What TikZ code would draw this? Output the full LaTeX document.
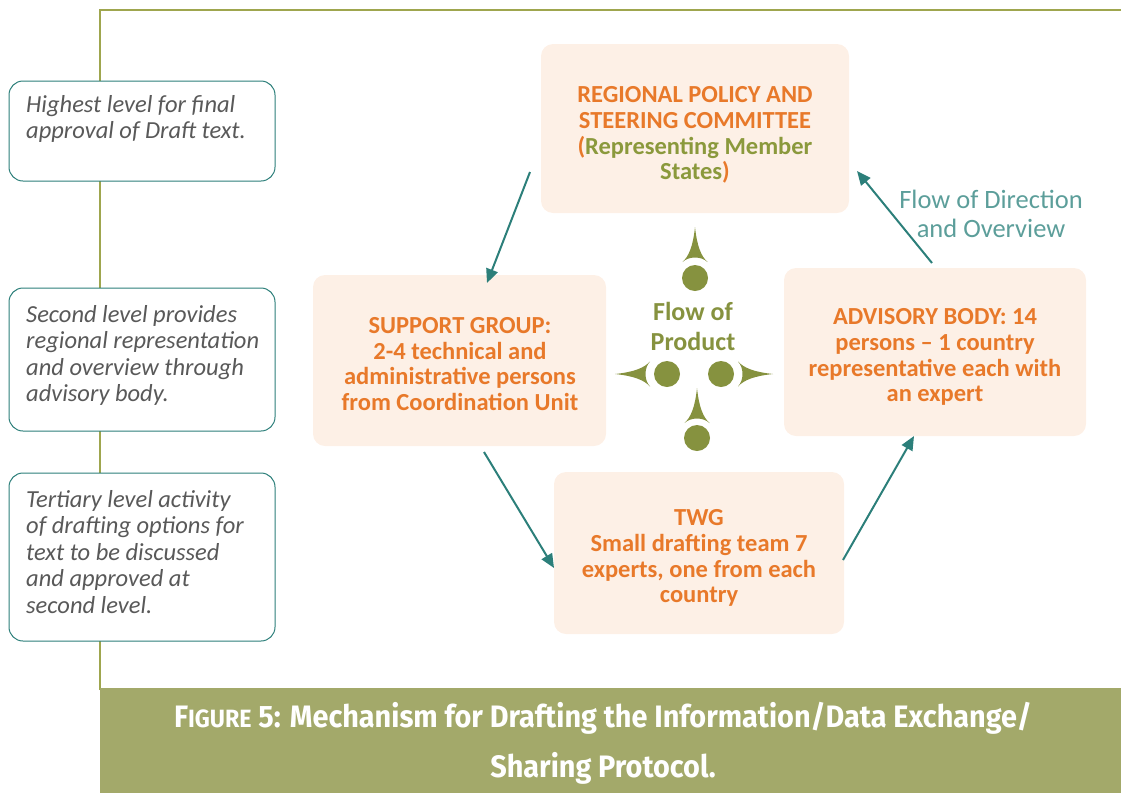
\documentclass[tikz,border=0pt]{standalone}
\usepackage{fontspec}
\setmainfont{Carlito}
\newfontfamily\titlefont[FakeStretch=0.93]{Fira Sans}
\usetikzlibrary{arrows.meta}
\definecolor{olive}{HTML}{9FA64E}
\definecolor{banner}{HTML}{A3A96A}
\definecolor{peach}{HTML}{FDF0E6}
\definecolor{orng}{HTML}{E8792A}
\definecolor{grn}{HTML}{8B993C}
\definecolor{prod}{HTML}{86923F}
\definecolor{teal}{HTML}{2C7F7A}
\definecolor{teallt}{HTML}{5C9E9A}
\definecolor{txtgray}{HTML}{595959}
\tikzset{
  notebox/.style={draw=teal, line width=1pt, fill=white, rounded corners=14pt},
  notetext/.style={anchor=north west, align=left, text=txtgray, font=\fontsize{24.5}{26.5}\selectfont\itshape, inner sep=0pt},
  mainbox/.style={fill=peach, rounded corners=12pt},
  maintext/.style={align=center, text=orng, font=\fontsize{24.5}{25.8}\selectfont\bfseries, inner sep=0pt},
  flowarrow/.style={draw=teal, line width=2pt, -{Triangle[length=14pt,width=12pt]}},
  spear/.pic={\fill[prod] (0,-35) .. controls (-2,-16) and (-6,-6) .. (-12.5,0) .. controls (-6,-6) and (6,-6) .. (12.5,0) .. controls (6,-6) and (2,-16) .. (0,-35) -- cycle;}
}
\begin{document}
\begin{tikzpicture}[x=1pt,y=-1pt]
\useasboundingbox (0,0) rectangle (1121,793);
% frame lines
\draw[olive, line width=1.5pt] (100,690) -- (100,10) -- (1121,10);
% banner
\fill[banner] (100,688) rectangle (1121,793);
\node[text=white, font=\titlefont\bfseries\fontsize{31}{50}\selectfont, align=center] (title) at (603,743)
  {F{\fontsize{25}{50}\selectfont IGURE} 5: Mechanism for Drafting the Information/Data Exchange/\\Sharing Protocol.};
% left notes
\draw[notebox] (9,81) rectangle (275,181);
\node[notetext] (n1) at (26,95) {Highest level for final\\approval of Draft text.};
\draw[notebox] (9,288) rectangle (275,431);
\node[notetext] (n2) at (26,305) {Second level provides\\regional representation\\and overview through\\advisory body.};
\draw[notebox] (9,473) rectangle (275,641);
\node[notetext] (n3) at (26,490) {Tertiary level activity\\of drafting options for\\text to be discussed\\and approved at\\second level.};
% main boxes
\fill[mainbox] (541,44) rectangle (849,213);
\node[maintext] (top) at (695,135) {REGIONAL POLICY AND\\STEERING COMMITTEE\\(\textcolor{grn}{Representing Member}\\\textcolor{grn}{States})};
\fill[mainbox] (313,275) rectangle (606,446);
\node[maintext] (left) at (460,364) {SUPPORT GROUP:\\2-4 technical and\\administrative persons\\from Coordination Unit};
\fill[mainbox] (784,268) rectangle (1086,436);
\node[maintext] (right) at (935,357) {ADVISORY BODY: 14\\persons -- 1 country\\representative each with\\an expert};
\fill[mainbox] (554,472) rectangle (844,634);
\node[maintext] (bot) at (699,558) {TWG\\Small drafting team 7\\experts, one from each\\country};
% flow arrows
\coordinate (a1s) at (530,172); \coordinate (a1e) at (487,283);
\coordinate (a2s) at (484,452); \coordinate (a2e) at (554,568);
\coordinate (a3s) at (843,560); \coordinate (a3e) at (914,436);
\coordinate (a4s) at (932,263); \coordinate (a4e) at (857,171);
\draw[flowarrow] (a1s) -- (a1e);
\draw[flowarrow] (a2s) -- (a2e);
\draw[flowarrow] (a3s) -- (a3e);
\draw[flowarrow] (a4s) -- (a4e);
\node[text=teallt, font=\fontsize{26.5}{29}\selectfont, align=center] (dir) at (991,214) {Flow of Direction\\and Overview};
% flow of product
\node[text=prod, font=\fontsize{26}{30}\selectfont\bfseries, align=center] (prodlbl) at (693,326) {Flow of\\Product};
\fill[prod] (695,278) circle (13);
\fill[prod] (667,374) circle (13);
\fill[prod] (721,374) circle (13);
\fill[prod] (697,438) circle (13);
\pic at (695,262) {spear};
\pic[rotate=90] at (650,374) {spear};
\pic[rotate=-90] at (738,374) {spear};
\pic at (697,423) {spear};
\end{tikzpicture}
\end{document}
